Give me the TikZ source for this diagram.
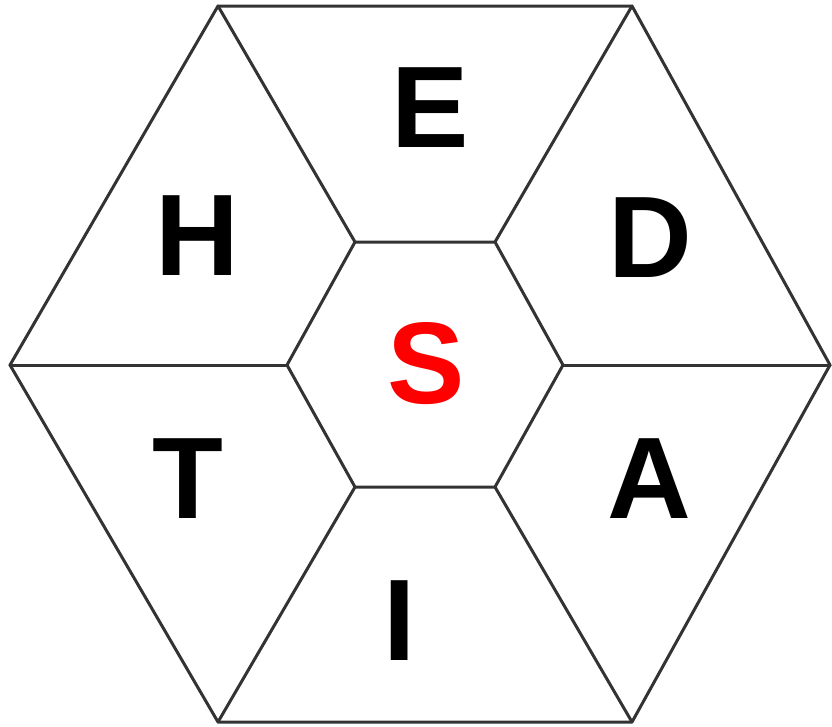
\documentclass[tikz,border=0pt]{standalone}
\usepackage{fontspec}
\setmainfont{Liberation Sans}
\begin{document}
\begin{tikzpicture}[x=1pt,y=-1pt,
  edge/.style={draw=black!80, line width=3pt, line join=round, line cap=round},
  letter/.style={font=\fontsize{116}{116}\selectfont\bfseries, inner sep=0pt, anchor=center}]
\useasboundingbox (0,0) rectangle (832,726);
% outer vertices
\coordinate (o1) at (218,6);
\coordinate (o2) at (632,6);
\coordinate (o3) at (830,365);
\coordinate (o4) at (632,722);
\coordinate (o5) at (218,722);
\coordinate (o6) at (10,365);
% inner vertices
\coordinate (i1) at (355,242);
\coordinate (i2) at (495,242);
\coordinate (i3) at (563,365);
\coordinate (i4) at (495,487);
\coordinate (i5) at (355,487);
\coordinate (i6) at (287,365);
\draw[edge] (o1) -- (o2) -- (o3) -- (o4) -- (o5) -- (o6) -- cycle;
\draw[edge] (i1) -- (i2) -- (i3) -- (i4) -- (i5) -- (i6) -- cycle;
\draw[edge] (i1) -- (o1);
\draw[edge] (i2) -- (o2);
\draw[edge] (i3) -- (o3);
\draw[edge] (i4) -- (o4);
\draw[edge] (i5) -- (o5);
\draw[edge] (i6) -- (o6);
\node[letter] (E) at (430,108) {E};
\node[letter] (D) at (650,238) {D};
\node[letter] (H) at (197,236) {H};
\node[letter] (T) at (188,479) {T};
\node[letter] (A) at (649,479) {A};
\node[letter] (I) at (400,621) {I};
\node[letter, text=red] (S) at (426,364) {S};
\end{tikzpicture}
\end{document}
